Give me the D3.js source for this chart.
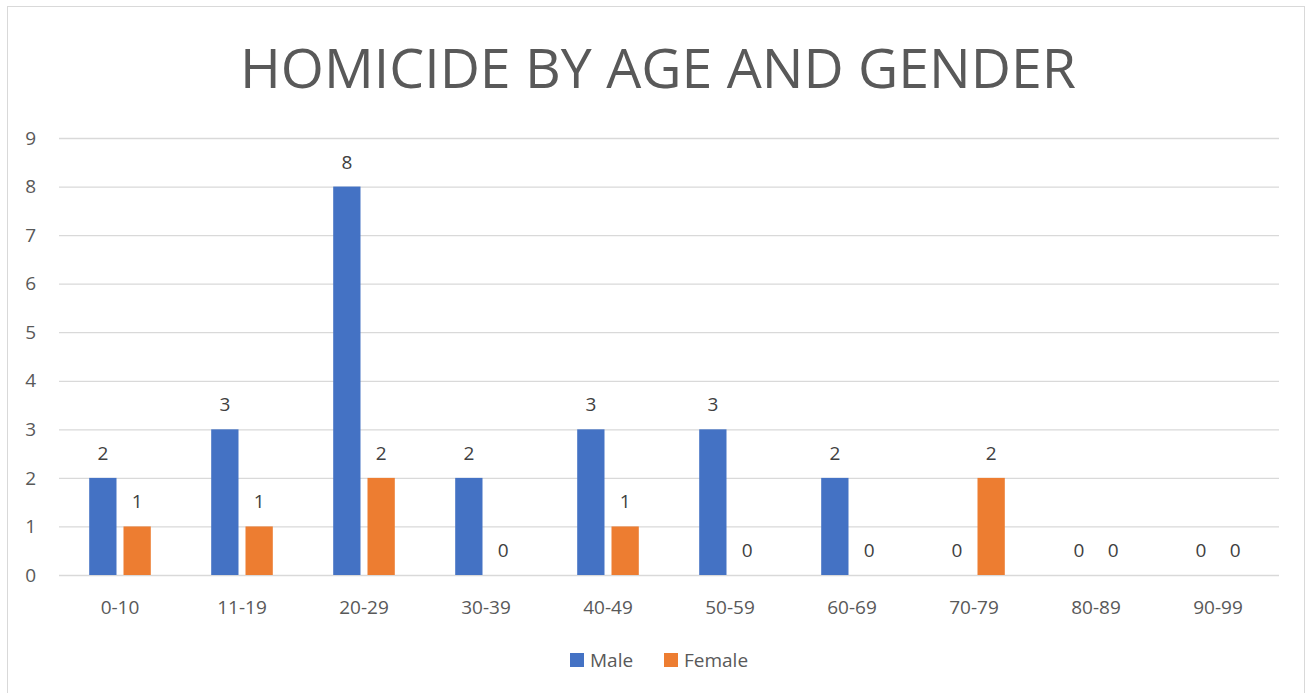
<!DOCTYPE html>
<html>
<head>
<meta charset="utf-8">
<script src="https://cdn.jsdelivr.net/npm/d3@7"></script>
<style>
  body { margin: 0; background: #fff; }
  text { font-family: "Open Sans", "Noto Sans", sans-serif; fill: #595959; }
</style>
</head>
<body>
<script>
// chart data
const categories = ["0-10", "11-19", "20-29", "30-39", "40-49", "50-59", "60-69", "70-79", "80-89", "90-99"];
const male = [2, 3, 8, 2, 3, 3, 2, 0, 0, 0];
const female = [1, 1, 2, 0, 1, 0, 0, 2, 0, 0];
const seriesNames = ["Male", "Female"];
const yTicks = [0, 1, 2, 3, 4, 5, 6, 7, 8, 9];
const colors = ["#4472C4", "#ED7D31"];
const title = "HOMICIDE BY AGE AND GENDER";

const W = 1308, H = 693;
const margin = { top: 138, right: 29, bottom: 118, left: 59 };
const width = W - margin.left - margin.right;
const height = H - margin.top - margin.bottom;

const svg = d3.select("body").append("svg")
  .attr("width", W)
  .attr("height", H);

// chart frame
svg.append("rect")
  .attr("x", 7.5).attr("y", 6.5)
  .attr("width", 1297).attr("height", 700)
  .attr("fill", "#fff")
  .attr("stroke", "#d9d9d9");

svg.append("text")
  .attr("x", 658)
  .attr("y", 88)
  .attr("text-anchor", "middle")
  .attr("font-size", 54)
  .attr("textLength", 836)
  .attr("lengthAdjust", "spacingAndGlyphs")
  .text(title);

const g = svg.append("g")
  .attr("transform", `translate(${margin.left},${margin.top})`);

const x = d3.scaleBand().domain(categories).range([0, width]);
const x1 = d3.scaleBand().domain(seriesNames).range([30.2, 91.8]).paddingInner(0.204);
const y = d3.scaleLinear().domain([0, 9]).range([height, 0]);

// gridlines
g.append("g")
  .call(d3.axisLeft(y).tickValues(yTicks).tickSize(-width).tickFormat(""))
  .call(s => s.select(".domain").remove())
  .selectAll("line")
  .attr("stroke", "#d9d9d9")
  .attr("stroke-width", 1.3);

// y tick labels
g.selectAll(".ylab")
  .data(yTicks)
  .join("text")
  .attr("class", "ylab")
  .attr("x", -23)
  .attr("y", d => y(d))
  .attr("dy", "0.35em")
  .attr("text-anchor", "end")
  .attr("font-size", 19)
  .text(d => d);

const rows = categories.map((c, i) => ({
  cat: c,
  vals: [
    { name: "Male", value: male[i], color: colors[0] },
    { name: "Female", value: female[i], color: colors[1] }
  ]
}));

const groups = g.selectAll(".grp")
  .data(rows)
  .join("g")
  .attr("class", "grp")
  .attr("transform", d => `translate(${x(d.cat)},0)`);

groups.selectAll("rect")
  .data(d => d.vals)
  .join("rect")
  .attr("x", d => x1(d.name))
  .attr("width", x1.bandwidth())
  .attr("y", d => y(d.value))
  .attr("height", d => height - y(d.value))
  .attr("fill", d => d.color);

groups.selectAll(".vlab")
  .data(d => d.vals)
  .join("text")
  .attr("class", "vlab")
  .attr("x", d => x1(d.name) + x1.bandwidth() / 2)
  .attr("y", d => y(d.value) - 18)
  .attr("text-anchor", "middle")
  .attr("font-size", 19)
  .style("fill", "#404040")
  .text(d => d.value);

// category labels
g.selectAll(".xlab")
  .data(categories)
  .join("text")
  .attr("class", "xlab")
  .attr("x", d => x(d) + x.bandwidth() / 2)
  .attr("y", height + 39)
  .attr("text-anchor", "middle")
  .attr("font-size", 19)
  .text(d => d);

// legend
const legend = svg.append("g").attr("transform", "translate(570,653)");
const legX = [0, 94];
seriesNames.forEach((n, i) => {
  legend.append("rect")
    .attr("x", legX[i]).attr("y", 0)
    .attr("width", 14).attr("height", 14)
    .attr("fill", colors[i]);
  legend.append("text")
    .attr("x", legX[i] + 20)
    .attr("y", 7)
    .attr("dy", "0.35em")
    .attr("font-size", 19)
    .text(n);
});
</script>
</body>
</html>
